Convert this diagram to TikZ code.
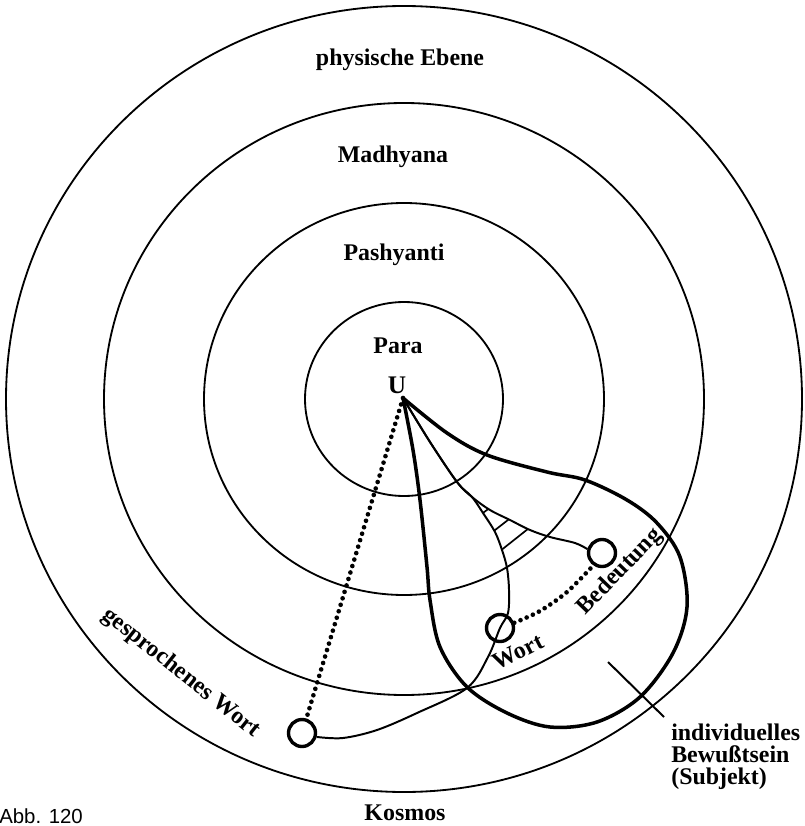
\documentclass[tikz,border=0pt]{standalone}
\usepackage{fontspec}
\setmainfont{Liberation Serif}
\newfontfamily\abbfont{Liberation Sans}
\usetikzlibrary{intersections}
\begin{document}
\begin{tikzpicture}[x=0.025cm,y=-0.025cm,
  ring/.style={line width=1.3pt},
  thinline/.style={line width=1.4pt},
  hatchline/.style={line width=1.2pt},
  boldline/.style={line width=2.5pt},
  dotline/.style={line width=3.3pt, line cap=round, dash pattern=on 0pt off 4.8pt},
  hole/.style={circle, draw, line width=2.4pt, minimum size=0.675cm, inner sep=0pt},
  lbl/.style={font=\fontsize{17pt}{17pt}\selectfont\bfseries, inner sep=0pt},
]
\path[use as bounding box, fill=white] (0,0) rectangle (804,826);
\coordinate (C) at (404,399);
\coordinate (U) at (403,398);
% concentric planes
\draw[ring] (C) ellipse[x radius=99, y radius=97];
\draw[ring] (C) ellipse[x radius=200, y radius=196];
\draw[ring] (C) ellipse[x radius=300, y radius=296];
\draw[ring] (C) ellipse[x radius=398, y radius=393];
% small circles
\node[hole] (bed) at (602,553) {};
\node[hole] (wort) at (500,628) {};
\node[hole] (spoken) at (302,733) {};
% individual consciousness loop
\draw[boldline] plot[smooth, tension=0.55] coordinates {(U) (447,433) (487,455) (547,472) (585,480) (627,500) (657,523) (680,557) (687,607) (673,653) (640,697) (597,722) (550,727) (507,713) (467,687) (440,647) (430,600) (427,567) (420,500) (413,450) (U)};
% curves from U
\draw[thinline, name path=cbed] plot[smooth, tension=0.55] coordinates {(U) (430,442) (457,482) (472,497) (490,510) (510,520) (530,530) (550,537) (575,543) (bed.165)};
\draw[thinline, name path=cword] plot[smooth, tension=0.55] coordinates {(U) (430,442) (457,482) (472,497) (483,513) (495,532) (502,550) (507,568) (509,590) (508,613) (wort.center) (488,657) (467,688) (417,713) (377,730) (343,738) (spoken.-15)};
% hatch arcs
\path[name path=hcA] (U) circle[radius=140];
\path[name path=hcB] (U) circle[radius=161];
\path[name path=hcC] (U) circle[radius=181];
\path[name intersections={of=hcA and cbed, by={hbA}}];
\path[name intersections={of=hcA and cword, by={hwA}}];
\path[name intersections={of=hcB and cbed, by={hbB}}];
\path[name intersections={of=hcB and cword, by={hwB}}];
\path[name intersections={of=hcC and cbed, by={hbC}}];
\path[name intersections={of=hcC and cword, by={hwC}}];
\draw[hatchline] (hwA) -- (hbA);
\draw[hatchline] (hwB) -- (hbB);
\draw[hatchline] (hwC) -- (hbC);
% dotted connections
\draw[dotline] (U) -- (spoken);
\draw[dotline] plot[smooth] coordinates {(wort.20) (540,611) (567,592) (bed.235)};
% pointer
\coordinate (pa) at (608,662);
\coordinate (pb) at (664,717);
\draw[thinline] (pa) -- (pb);
% labels
\node[lbl] (tphys) at (400,60) {physische Ebene};
\node[lbl] (tmadh) at (393,157) {Madhyana};
\node[lbl] (tpash) at (394,255) {Pashyanti};
\node[lbl] (tpara) at (398,346) {Para};
\node[lbl, font=\fontsize{18pt}{18pt}\selectfont\bfseries] (tu) at (397,385) {U};
\node[lbl] (tkos) at (405,813) {Kosmos};
\node[lbl, rotate=46] (tbed) at (620,572) {Bedeutung};
\node[lbl, rotate=27] (twort) at (518,652) {Wort};
\node[lbl, rotate=-38.5] (tgw) at (181,673) {gesprochenes Wort};
\node[lbl, anchor=base west] (tind1) at (671,740) {individuelles};
\node[lbl, anchor=base west] (tind2) at (671,762) {Bewußtsein};
\node[lbl, anchor=base west] (tind3) at (671,784) {(Subjekt)};
\node[font=\abbfont\fontsize{14.5pt}{14.5pt}\selectfont, inner sep=0pt, anchor=base west] (abb) at (-1,823) {Abb. 120};
\end{tikzpicture}
\end{document}
